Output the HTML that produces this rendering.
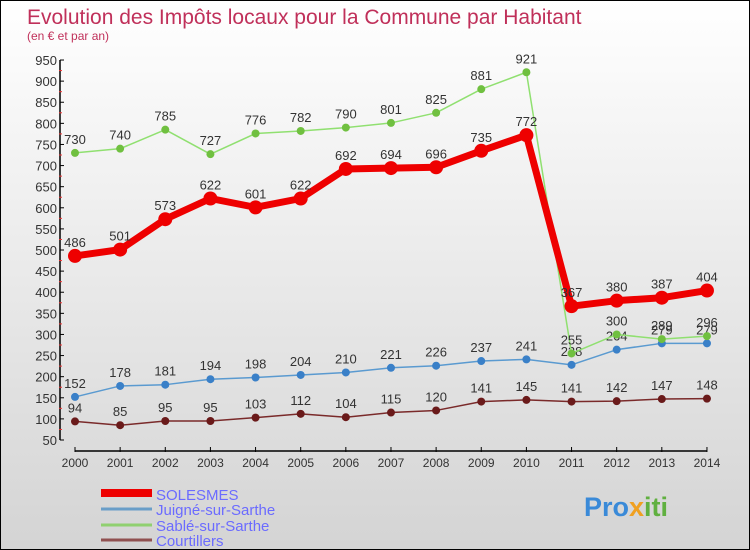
<!DOCTYPE html>
<html><head><meta charset="utf-8"><style>
body{margin:0;}
#c{width:750px;height:550px;position:relative;box-sizing:border-box;border:1px solid #000;background:linear-gradient(#ffffff,#d4d4d4);font-family:"Liberation Sans",sans-serif;overflow:hidden}
</style></head><body>
<div id="c">
<svg id="s" width="748" height="548" xmlns="http://www.w3.org/2000/svg">
<text x="26" y="23" font-size="21" fill="#c0305a">Evolution des Impôts locaux pour la Commune par Habitant</text>
<text x="26" y="39" font-size="12" fill="#c0305a">(en € et par an)</text>
<g id="axes"></g><g id="series"></g>
<g>
<line x1="100" y1="492" x2="151" y2="492" stroke="#e00" stroke-width="8"/>
<text x="155" y="499" font-size="15" fill="#6b6bff">SOLESMES</text>
<line x1="100" y1="508" x2="151" y2="508" stroke="#6a9ec8" stroke-width="3"/>
<text x="155" y="514" font-size="15" fill="#6b6bff">Juigné-sur-Sarthe</text>
<line x1="100" y1="524" x2="151" y2="524" stroke="#90d070" stroke-width="3"/>
<text x="155" y="530" font-size="15" fill="#6b6bff">Sablé-sur-Sarthe</text>
<line x1="100" y1="539" x2="151" y2="539" stroke="#905050" stroke-width="3"/>
<text x="155" y="545" font-size="15" fill="#6b6bff">Courtillers</text>
</g>
<text x="583" y="515" font-size="27" font-weight="bold" fill="#3a8ad8">Pro<tspan fill="#f0a020">x</tspan><tspan fill="#60b040">iti</tspan></text>
</svg></div>
<script>
const years=[2000,2001,2002,2003,2004,2005,2006,2007,2008,2009,2010,2011,2012,2013,2014];
const solesmes=[486,501,573,622,601,622,692,694,696,735,772,367,380,387,404];
const juigne=[152,178,181,194,198,204,210,221,226,237,241,228,264,279,279];
const sable=[730,740,785,727,776,782,790,801,825,881,921,255,300,289,296];
const courtillers=[94,85,95,95,103,112,104,115,120,141,145,141,142,147,148];
const yTicks=[50,100,150,200,250,300,350,400,450,500,550,600,650,700,750,800,850,900,950];
const NS="http://www.w3.org/2000/svg";
const X=i=>74+i*45.14, Y=v=>439-(v-50)*0.4222;
function mk(p,t,a){const e=document.createElementNS(NS,t);for(const k in a)e.setAttribute(k,a[k]);p.appendChild(e);return e;}
const ax=document.getElementById('axes'), sg=document.getElementById('series');
const yl=mk(ax,'line',{x1:59,y1:Y(950),x2:59,y2:Y(50),stroke:'#000','stroke-width':1.5});


yTicks.forEach(v=>{
 mk(ax,'line',{x1:59,y1:Y(v),x2:63,y2:Y(v),stroke:'#000'});
 mk(ax,'line',{x1:58,y1:Y(v+25),x2:61,y2:Y(v+25),stroke:'#e33'}).style.display=v<950?'':'none';
 const t=mk(ax,'text',{x:56,y:Y(v)+5,'font-size':13,fill:'#333','text-anchor':'end'});t.textContent=v;
 
 
});
const xl=mk(ax,'line',{x1:X(0),y1:450,x2:X(14),y2:450,stroke:'#000','stroke-width':1.5});


years.forEach((y,i)=>{
 mk(ax,'line',{x1:X(i),y1:446,x2:X(i),y2:451,stroke:'#000'});
 const t=mk(ax,'text',{x:X(i),y:466,'font-size':12,fill:'#333','text-anchor':'middle'});t.textContent=y;
 
 
});
function series(d,name,col,dot,w,r){
 const g=mk(sg,'g',{});
 
 
 mk(g,'polyline',{points:d.map((v,i)=>X(i)+','+Y(v)).join(' '),fill:'none',stroke:col,'stroke-width':w,'stroke-linejoin':'round'});
 d.forEach((v,i)=>{
  const c=mk(g,'circle',{cx:X(i),cy:Y(v),r:r,fill:dot});
  
  
  const t=mk(g,'text',{x:X(i),y:Y(v)-9,'font-size':13,fill:'#333','text-anchor':'middle'});t.textContent=v;
  
  
 });
}
series(courtillers,'courtillers','#7a2a2a','#6a1a1a',1.5,4);
series(juigne,'juigne','#5a9ad0','#3a80c8',1.5,4);
series(sable,'sable','#90e070','#70c040',1.5,4);
series(solesmes,'solesmes','#ee0000','#ee0000',7,7);
</script>
</body></html>
